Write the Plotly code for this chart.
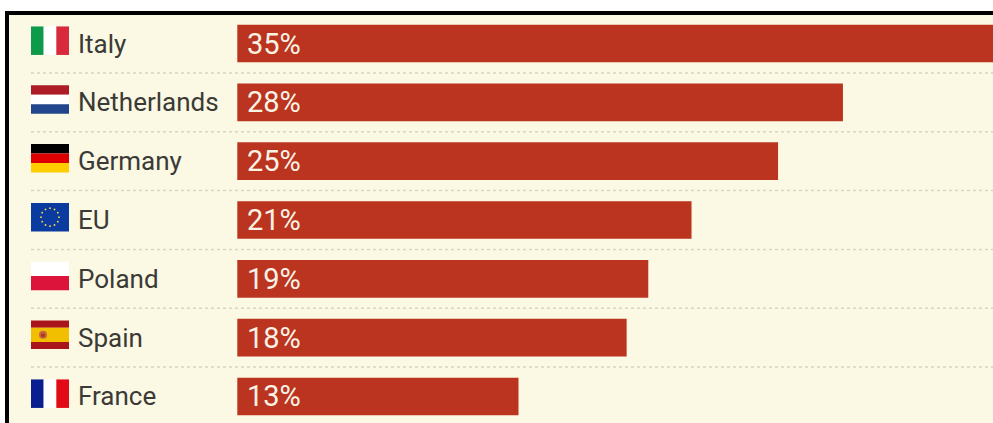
import math
import plotly.graph_objects as go

countries = ["Italy", "Netherlands", "Germany", "EU", "Poland", "Spain", "France"]
shares = [35, 28, 25, 21, 19, 18, 13]

WIDTH, HEIGHT = 993, 423
BAR_COLOR = "#BA3420"
CREAM = "#FBF8E3"
INK = "#3A3A36"
LABEL_FONT = "Roboto"

# Stripe colours for each flag; orientation is given separately
vertical_flags = {
    "Italy": ["#0E9A4B", "#FFFFFF", "#D9293C"],
    "France": ["#0A1F8F", "#FFFFFF", "#E30A17"],
}
horizontal_flags = {
    "Netherlands": [("#AE1C28", 1), ("#FFFFFF", 1), ("#21468B", 1)],
    "Germany": [("#000000", 1), ("#DD0000", 1), ("#FFCE00", 1)],
    "EU": [("#0B3B9E", 1)],
    "Poland": [("#FFFFFF", 1), ("#DC143C", 1)],
    "Spain": [("#AA151B", 1), ("#F1BF00", 2), ("#AA151B", 1)],
}

# Axes span the whole page, so x=0 falls at the left edge of the bars
PX_PER_POINT = 21.63
BAR_LEFT = 237.3
ROW_PITCH = 58.83
FIRST_ROW = 43.5
x_range = [-BAR_LEFT / PX_PER_POINT, (WIDTH - BAR_LEFT) / PX_PER_POINT]
y_range = [(HEIGHT - FIRST_ROW) / ROW_PITCH, -FIRST_ROW / ROW_PITCH]


def page_rect(x0, y0, x1, y1, color, layer="above"):
    """Rectangle given in page pixels, measured from the top left corner."""
    return dict(
        type="rect", xref="paper", yref="paper", layer=layer,
        x0=x0 / WIDTH, x1=x1 / WIDTH,
        y0=1 - y0 / HEIGHT, y1=1 - y1 / HEIGHT,
        fillcolor=color, line_width=0,
    )


def page_dot(cx, cy, r, color):
    shape = page_rect(cx - r, cy - r, cx + r, cy + r, color)
    shape["type"] = "circle"
    return shape


FLAG_LEFT, FLAG_W, FLAG_H = 31, 38, 28.5
shapes = [
    page_rect(0, 0, WIDTH, HEIGHT, "#FFFFFF", "below"),
    page_rect(9, 15, WIDTH, HEIGHT, CREAM, "below"),
]

# Dotted separators between rows
for i in range(len(countries) - 1):
    shapes.append(dict(
        type="line", xref="paper", yref="y", layer="below",
        x0=FLAG_LEFT / WIDTH, x1=1, y0=i + 0.5, y1=i + 0.5,
        line=dict(color="#D6D4C2", width=1.5, dash="dot"),
    ))

# Flags
for i, name in enumerate(countries):
    top = FIRST_ROW + i * ROW_PITCH - 2.8 - FLAG_H / 2
    if name in vertical_flags:
        stripes = vertical_flags[name]
        w = FLAG_W / len(stripes)
        for k, c in enumerate(stripes):
            shapes.append(page_rect(FLAG_LEFT + k * w, top, FLAG_LEFT + (k + 1) * w, top + FLAG_H, c))
    else:
        stripes = horizontal_flags[name]
        total = sum(s[1] for s in stripes)
        y = top
        for c, weight in stripes:
            h = FLAG_H * weight / total
            shapes.append(page_rect(FLAG_LEFT, y, FLAG_LEFT + FLAG_W, y + h, c))
            y += h
    cx, cy = FLAG_LEFT + FLAG_W / 2, top + FLAG_H / 2
    if name == "EU":
        for s in range(12):
            a = s * math.pi / 6
            shapes.append(page_dot(cx + 9 * math.cos(a), cy + 9 * math.sin(a), 0.9, "#FFD94A"))
    if name == "Spain":
        # Simplified coat of arms
        shapes.append(page_dot(FLAG_LEFT + 12, cy, 4, "#C8643C"))
        shapes.append(page_dot(FLAG_LEFT + 12, cy + 0.5, 2, "#A83A22"))

annotations = []
for i, (name, value) in enumerate(zip(countries, shares)):
    annotations.append(dict(
        x=75.5 / WIDTH, xref="paper", y=i, yref="y", text=name, showarrow=False,
        xanchor="left", yanchor="middle",
        font=dict(family=LABEL_FONT, size=26, color=INK),
    ))
    annotations.append(dict(
        x=0, xref="x", xshift=7.5, y=i, yref="y", text=f"{value}%", showarrow=False,
        xanchor="left", yanchor="middle",
        font=dict(family=LABEL_FONT, size=29, color="#FBF3E6"),
    ))

fig = go.Figure(go.Bar(
    x=shares, y=list(range(len(countries))), orientation="h", width=0.64,
    marker=dict(color=BAR_COLOR, line_width=0), hoverinfo="skip",
))
fig.update_layout(
    width=WIDTH, height=HEIGHT, margin=dict(l=0, r=0, t=0, b=0),
    paper_bgcolor="#FFFFFF", plot_bgcolor=CREAM, showlegend=False,
    xaxis=dict(range=x_range, visible=False, fixedrange=True),
    yaxis=dict(range=y_range, visible=False, fixedrange=True),
    shapes=shapes, annotations=annotations,
)
# Black frame along the top and left edges, drawn last so it sits on top
fig.add_shape(page_rect(5, 11, WIDTH, 15, "#000000"))
fig.add_shape(page_rect(5, 11, 9, HEIGHT, "#000000"))

fig.write_html("out.html", config=dict(displayModeBar=False))
